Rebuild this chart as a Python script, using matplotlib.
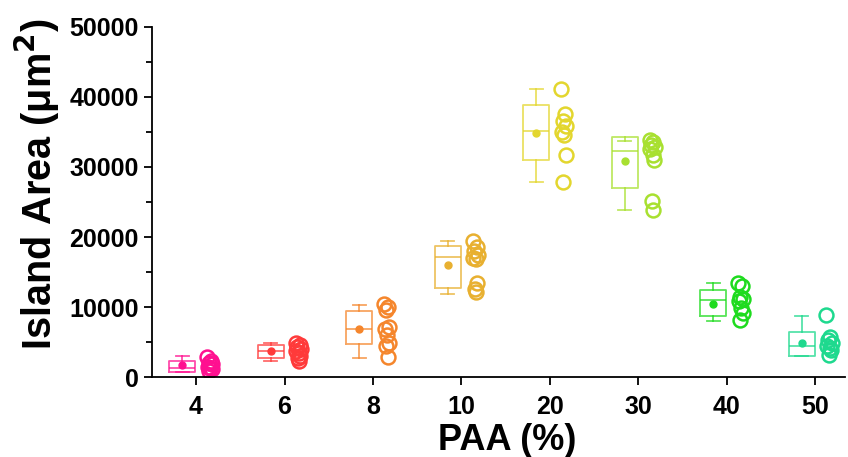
import matplotlib.pyplot as plt
import numpy as np
from matplotlib.ticker import MultipleLocator

plt.rcParams['font.family'] = ['Liberation Sans', 'DejaVu Sans']
plt.rcParams['font.weight'] = 'bold'

# Data
groups = ['4', '6', '8', '10', '20', '30', '40', '50']
colors = ['#FF1090', '#FF3A3A', '#F5862C', '#E8B030', '#E3D62E', '#A8E030', '#1EDB1E', '#1ED98E']

points = [
    [2800, 2300, 2000, 1800, 1500, 1300, 1100, 900],
    [4850, 4600, 4300, 4000, 3700, 3400, 3000, 2700, 2350],
    [10400, 10000, 9600, 7200, 6800, 6000, 4800, 4400, 2800],
    [19400, 18600, 18000, 17500, 17000, 16800, 13500, 12600, 12100],
    [41100, 37500, 36500, 35800, 35000, 34500, 31700, 27800],
    [33900, 33500, 33200, 32800, 32600, 31700, 31000, 25100, 23900],
    [13400, 13000, 11500, 11100, 10800, 9800, 9100, 8200],
    [8800, 5700, 5300, 4900, 4500, 4200, 3800, 3200],
]

whis_low = [700, 2330, 2760, 11860, 27810, 23860, 8040, 3000]
q1 = [760, 2670, 4670, 12760, 31000, 27050, 8710, 3000]
median = [1250, 3700, 6810, 17190, 35140, 32290, 11000, 4430]
q3 = [2290, 4570, 9470, 18760, 38860, 34330, 12430, 6380]
whis_high = [3000, 4810, 10290, 19430, 41140, 33710, 13470, 8760]
means = [1650, 3710, 6810, 16000, 34900, 30860, 10430, 4810]

fig = plt.figure(figsize=(8.48, 4.57), dpi=100)
ax = fig.add_axes([0.179, 0.175, 0.817, 0.766])

x = np.arange(len(groups))
box_off = 0.155
pt_off = 0.155

for i, c in enumerate(colors):
    stats = [dict(med=median[i], q1=q1[i], q3=q3[i],
                  whislo=whis_low[i], whishi=whis_high[i], mean=means[i])]
    ax.bxp(stats, positions=[x[i] - box_off], widths=0.29, showmeans=True,
           showfliers=False, manage_ticks=False,
           boxprops=dict(color=c, lw=1.3, alpha=0.75),
           medianprops=dict(color=c, lw=1.3, alpha=0.75),
           whiskerprops=dict(color=c, lw=1.3, alpha=0.75),
           capprops=dict(color=c, lw=1.3, alpha=0.75),
           meanprops=dict(marker='o', markerfacecolor=c, markeredgecolor=c,
                          markersize=5))
    vals = points[i]
    jitter = 0.03 * np.resize([-1, 0.5, -0.3, 1, -0.7, 0.2, 0.8, -0.1, 0.4], len(vals))
    ax.plot(x[i] + pt_off + jitter, vals, 'o', ms=10, mfc='none', mec=c, mew=1.8)

ax.set_xlim(-0.5, 7.33)
ax.set_ylim(0, 50000)
ax.set_xticks(x)
ax.set_xticklabels(groups)
ax.yaxis.set_major_locator(MultipleLocator(10000))
ax.yaxis.set_minor_locator(MultipleLocator(5000))
ax.tick_params(axis='both', which='major', direction='out', length=6, width=1.3,
               labelsize=18)
ax.tick_params(axis='x', which='major', pad=7)
ax.tick_params(axis='y', which='minor', direction='out', length=4, width=1.3)
for lab in ax.get_xticklabels() + ax.get_yticklabels():
    lab.set_fontweight('bold')

ax.spines['top'].set_visible(False)
ax.spines['right'].set_visible(False)
ax.spines['left'].set_linewidth(1.3)
ax.spines['bottom'].set_linewidth(1.3)

ax.set_xlabel('PAA (%)', fontsize=26, fontweight='bold', labelpad=3)
ax.set_ylabel('Island Area (μm$^\\mathbf{2}$)', fontsize=28.5, fontweight='bold', labelpad=5)
ax.xaxis.label.set_x(0.513)
ax.yaxis.label.set_y(0.55)

fig.savefig('out.png', dpi=100)
